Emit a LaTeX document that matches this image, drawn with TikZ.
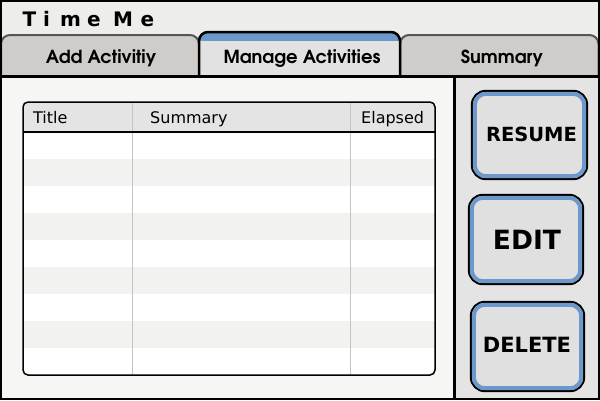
\documentclass[tikz,border=0pt]{standalone}
\usepackage{fontspec}
\usetikzlibrary{fit}
\setmainfont{DejaVu Sans}
\newfontfamily\tabfont{TeX Gyre Adventor}
\definecolor{topbg}{HTML}{EDEDEB}
\definecolor{tabgray}{HTML}{D0CCCA}
\definecolor{tabline}{HTML}{555555}
\definecolor{selfill}{HTML}{E2E2E2}
\definecolor{ringblue}{HTML}{6C98CB}
\definecolor{leftbg}{HTML}{F6F7F5}
\definecolor{rightbg}{HTML}{E4E4E4}
\definecolor{hdrfill}{HTML}{E4E4E4}
\definecolor{rowalt}{HTML}{F2F2F0}
\definecolor{sepline}{HTML}{C8C2C2}
\definecolor{btnfill}{HTML}{E0E0E0}
\tikzset{
  tabtxt/.style={font=\tabfont\bfseries\fontsize{18}{20}\selectfont, anchor=base, inner sep=0pt},
  hdrtxt/.style={font=\fontsize{16}{18}\selectfont, anchor=base west, inner sep=0pt},
  ttl/.style={font=\bfseries\fontsize{20}{22}\selectfont, anchor=base, inner sep=0pt},
  btnbox/.style={inner sep=0pt},
  btnouter/.style={draw=black, line width=2pt, fill=btnfill, rounded corners=14pt},
  bluering/.style={draw=ringblue, line width=4pt, rounded corners=11pt},
}
\newcommand{\mybutton}[1]{%
  \draw[btnouter] (#1.north west) -- (#1.north east) -- (#1.south east) -- (#1.south west) -- cycle;
  \draw[bluering] ([shift={(3,3)}]#1.north west) -- ([shift={(-3,3)}]#1.north east) -- ([shift={(-3,-3)}]#1.south east) -- ([shift={(3,-3)}]#1.south west) -- cycle;
}
\begin{document}
\begin{tikzpicture}[x=1pt,y=-1pt]
\useasboundingbox (0,0) rectangle (600,400);
% backgrounds
\fill[topbg] (0,0) rectangle (600,400);
\fill[leftbg] (0,77) rectangle (455,400);
\fill[rightbg] (455,77) rectangle (600,400);
% title
\node[ttl] (t1) at (29.5,26) {T};
\node[ttl] (t2) at (46.5,26) {i};
\node[ttl] (t3) at (70.5,26) {m};
\node[ttl] (t4) at (94,26) {e};
\node[ttl] (t5) at (123,26) {M};
\node[ttl] (t6) at (147.5,26) {e};
% tabs (inactive)
\draw[fill=tabgray, draw=tabline, line width=2pt, rounded corners=9pt]
  (1,77) -- (1,35) -- (199,35) -- (199,77);
\draw[fill=tabgray, draw=tabline, line width=2pt, rounded corners=9pt]
  (400,77) -- (400,35) -- (598.5,35) -- (598.5,77);
% active tab
\fill[selfill, rounded corners=9pt] (199,77) -- (199,32) -- (400,32) -- (400,77);
\begin{scope}
  \clip[rounded corners=9pt] (199,77) -- (199,32) -- (400,32) -- (400,77) -- cycle;
  \fill[ringblue] (190,28) rectangle (410,41);
\end{scope}
\draw[black, line width=2.5pt, rounded corners=9pt] (199,77) -- (199,32) -- (400,32) -- (400,77);
\node[tabtxt] (tab1) at (101,63) {Add Activitiy};
\node[tabtxt] (tab2) at (302,63) {Manage Activities};
\node[tabtxt] (tab3) at (502,63) {Summary};
% separators
\draw[black, line width=3pt] (0,76.5) -- (600,76.5);
\draw[black, line width=3pt] (454.7,76.5) -- (454.7,400);
% table
\begin{scope}
  \clip[rounded corners=5pt] (23,102) rectangle (435,375);
  \fill[white] (23,102) rectangle (435,375);
  \fill[hdrfill] (23,102) rectangle (435,132);
  \foreach \i in {1,3,5,7} \fill[rowalt] (23,{132+27*\i}) rectangle (435,{132+27*(\i+1)});
\end{scope}
\draw[sepline, line width=1pt] (132.5,102) -- (132.5,375);
\draw[sepline, line width=1pt] (350.5,102) -- (350.5,375);
\draw[black, line width=1.3pt] (23,132) -- (435,132);
\draw[black, line width=1.5pt, rounded corners=5pt] (23,102) rectangle (435,375);
\node[hdrtxt] (h1) at (33,123) {Title};
\node[hdrtxt] (h2) at (150,123) {Summary};
\node[hdrtxt] (h3) at (361,123) {Elapsed};
% buttons
\path (472,91) coordinate (rnw) (587,179) coordinate (rse);
\node[btnbox, fit=(rnw)(rse)] (resume) {};
\path (469,195) coordinate (enw) (583,284) coordinate (ese);
\node[btnbox, fit=(enw)(ese)] (edit) {};
\path (471,302) coordinate (dnw) (584,391) coordinate (dse);
\node[btnbox, fit=(dnw)(dse)] (delete) {};
\mybutton{resume}
\mybutton{edit}
\mybutton{delete}
\node[font=\bfseries\fontsize{19.5}{22}\selectfont, inner sep=0pt] (resumetxt) at (531.5,134.2) {RESUME};
\node[font=\bfseries\fontsize{26.5}{28}\selectfont, inner sep=0pt] (edittxt) at (527,240) {EDIT};
\node[font=\bfseries\fontsize{21}{23}\selectfont, inner sep=0pt] (deletetxt) at (527,345) {DELETE};
% outer frame
\draw[black, line width=2pt] (1,1) rectangle (599,399);
\end{tikzpicture}
\end{document}
